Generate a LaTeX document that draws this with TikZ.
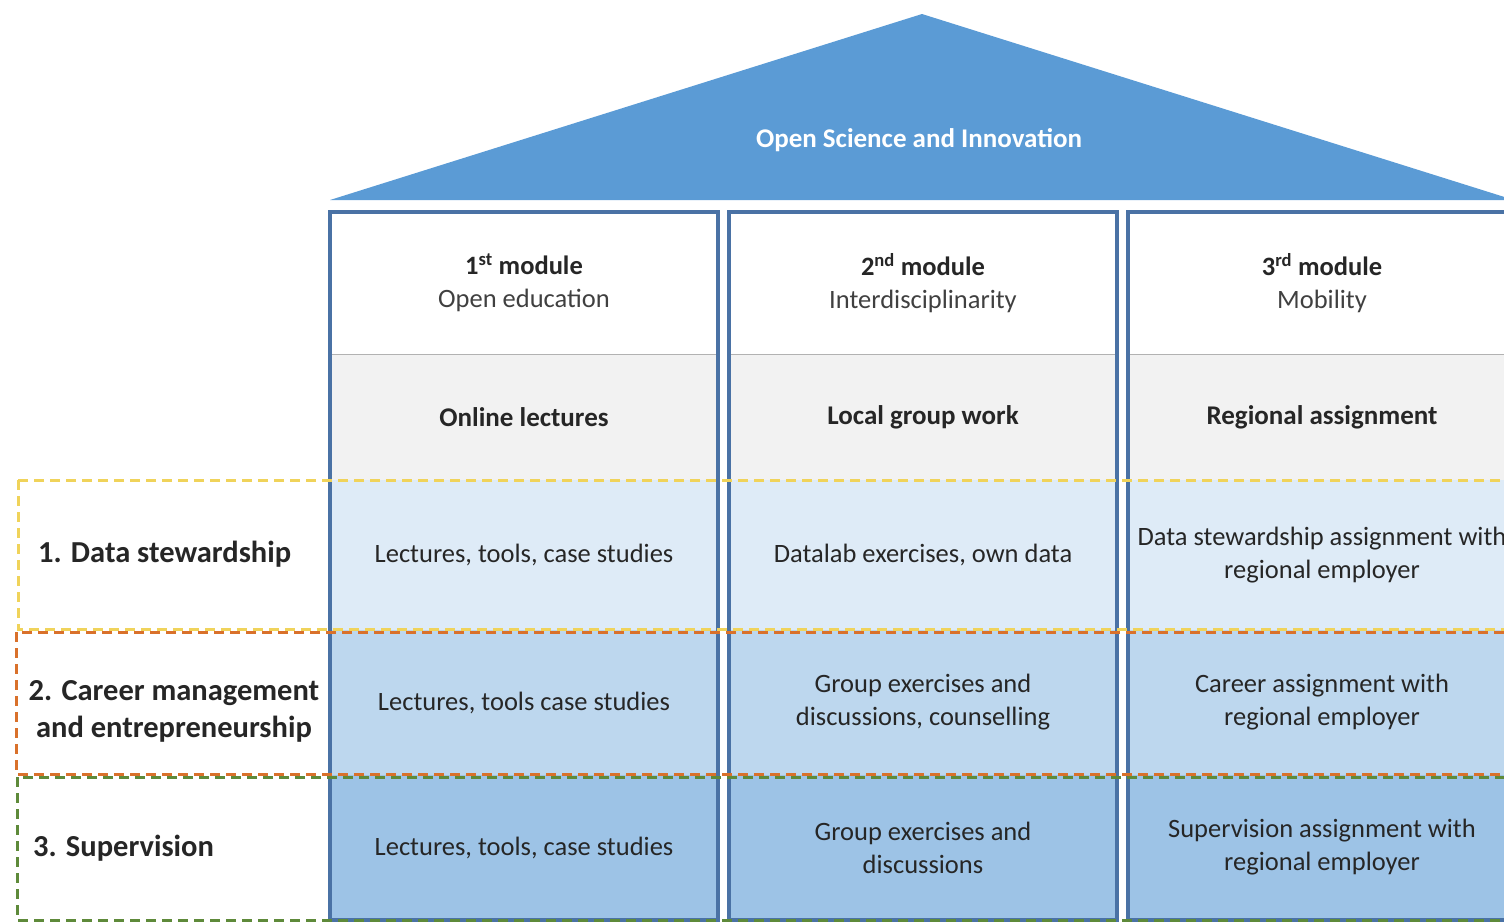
\documentclass[tikz,border=0pt]{standalone}
\usepackage{fontspec}
\setmainfont{Carlito}
\usetikzlibrary{positioning}

\definecolor{roofblue}{HTML}{5B9BD5}
\definecolor{colframe}{HTML}{4A72A5}
\definecolor{rowgray}{HTML}{F2F2F2}
\definecolor{rowone}{HTML}{DEEBF7}
\definecolor{rowtwo}{HTML}{BDD7EE}
\definecolor{rowthree}{HTML}{9DC3E6}
\definecolor{txtdark}{HTML}{262626}
\definecolor{txtsub}{HTML}{404040}
\definecolor{bandyellow}{HTML}{F0D35A}
\definecolor{bandorange}{HTML}{D9712B}
\definecolor{bandgreen}{HTML}{5E8A3A}

\begin{document}
\begin{tikzpicture}[x=1pt,y=-1pt,
  cell/.style={minimum width=388pt, inner sep=0pt, align=center, text=txtdark,
    font=\fontsize{26.5}{33}\selectfont},
  headtxt/.style={font=\fontsize{27}{33}\selectfont\bfseries},
  rowlabel/.style={inner sep=0pt, align=center, text=txtdark,
    font=\fontsize{30.5}{37}\selectfont\bfseries},
  frame/.style={draw=colframe, line width=4pt},
  band/.style={line width=3pt, dash pattern=on 10pt off 6pt}]
\useasboundingbox (0,0) rectangle (1504,922);
\clip (0,0) rectangle (1504,922);

% roof
\fill[roofblue] (330,200) -- (922,14) -- (1514,200) -- cycle;
\node[inner sep=0pt, text=white, font=\fontsize{27}{30}\selectfont\bfseries] (roof) at (919,140) {Open Science and Innovation};

% first column
\node[cell, minimum height=142pt, fill=white] (h1) at (524,283) {{\bfseries 1\textsuperscript{st} module}\\{\color{txtsub}Open education}};
\node[cell, minimum height=126pt, fill=rowgray, headtxt] (g1) at (524,417) {Online lectures};
\node[cell, minimum height=150pt, fill=rowone] (a1) at (524,555) {Lectures, tools, case studies};
\node[cell, minimum height=145pt, fill=rowtwo] (b1) at (524,702.5) {Lectures, tools case studies};
\node[cell, minimum height=145pt, fill=rowthree] (c1) at (524,847.5) {Lectures, tools, case studies};

% second column
\node[cell, minimum height=142pt, fill=white] (h2) at (923,283) {{\bfseries 2\textsuperscript{nd} module}\\{\color{txtsub}Interdisciplinarity}};
\node[cell, minimum height=126pt, fill=rowgray, headtxt] (g2) at (923,417) {Local group work};
\node[cell, minimum height=150pt, fill=rowone] (a2) at (923,555) {Datalab exercises, own data};
\node[cell, minimum height=145pt, fill=rowtwo] (b2) at (923,702.5) {Group exercises and\\discussions, counselling};
\node[cell, minimum height=145pt, fill=rowthree] (c2) at (923,847.5) {Group exercises and\\discussions};

% third column
\node[cell, minimum height=142pt, fill=white] (h3) at (1322,283) {{\bfseries 3\textsuperscript{rd} module}\\{\color{txtsub}Mobility}};
\node[cell, minimum height=126pt, fill=rowgray, headtxt] (g3) at (1322,417) {Regional assignment};
\node[cell, minimum height=150pt, fill=rowone] (a3) at (1322,555) {Data stewardship assignment with\\regional employer};
\node[cell, minimum height=145pt, fill=rowtwo] (b3) at (1322,702.5) {Career assignment with\\regional employer};
\node[cell, minimum height=145pt, fill=rowthree] (c3) at (1322,847.5) {Supervision assignment with\\regional employer};

% header rules and column frames
\draw[gray!60] (h1.south west) -- (h1.south east);
\draw[gray!60] (h2.south west) -- (h2.south east);
\draw[gray!60] (h3.south west) -- (h3.south east);
\draw[frame] (h1.north west) rectangle (c1.south east);
\draw[frame] (h2.north west) rectangle (c2.south east);
\draw[frame] (h3.north west) rectangle (c3.south east);

% dashed bands
\draw[band, draw=bandyellow] (18,480) rectangle (1530,629);
\draw[band, draw=bandorange] (16,632) rectangle (1530,774);
\draw[band, draw=bandgreen] (17,777) rectangle (1530,920);

% row labels
\node[rowlabel, anchor=west] (l1) at (38,554) {1. Data stewardship};
\node[rowlabel] (l2) at (174,711) {2. Career management\\and entrepreneurship};
\node[rowlabel, anchor=west] (l3) at (33,848) {3. Supervision};
\end{tikzpicture}
\end{document}
